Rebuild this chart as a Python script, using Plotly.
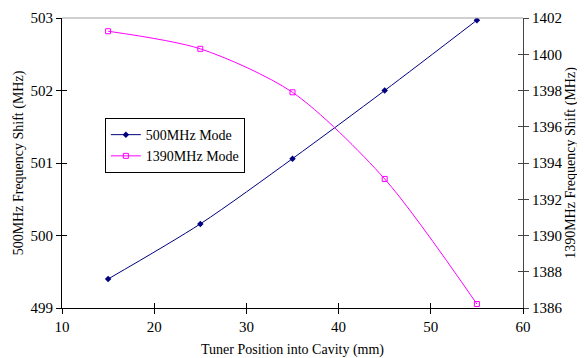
import plotly.graph_objects as go

positions = [15, 25, 35, 45, 55]
shift_500 = [499.40, 500.16, 501.06, 502.00, 502.97]
shift_1390 = [1401.27, 1400.30, 1397.90, 1393.12, 1386.22]

x_ticks = [10, 20, 30, 40, 50, 60]
left_ticks = [499, 500, 501, 502, 503]
right_ticks = [1386, 1388, 1390, 1392, 1394, 1396, 1398, 1400, 1402]

FONT = "Liberation Serif, Times New Roman, serif"
BLUE = "#000080"
PINK = "#FF00FF"

fig = go.Figure()

fig.add_trace(go.Scatter(
    x=positions, y=shift_500, name="500MHz Mode", mode="lines+markers",
    line=dict(color=BLUE, width=1, shape="spline", smoothing=0.8),
    marker=dict(symbol="diamond", size=5, color=BLUE),
    xaxis="x", yaxis="y"))
fig.add_trace(go.Scatter(
    x=positions, y=shift_1390, name="1390MHz Mode", mode="lines+markers",
    line=dict(color=PINK, width=1, shape="spline", smoothing=0.8),
    marker=dict(symbol="square-open", size=5, color=PINK, line=dict(width=1)),
    xaxis="x", yaxis="y2"))

# invisible helper traces for inward tick marks (crossing ticks)
inv = dict(mode="markers", marker=dict(opacity=0), hoverinfo="skip", showlegend=False)
fig.add_trace(go.Scatter(x=positions, y=shift_500, xaxis="x2", yaxis="y", **inv))
fig.add_trace(go.Scatter(x=positions, y=shift_500, xaxis="x", yaxis="y3", **inv))
fig.add_trace(go.Scatter(x=positions, y=shift_1390, xaxis="x", yaxis="y4", **inv))

tickfont = dict(family=FONT, size=15, color="black")
titlefont = dict(family=FONT, size=14, color="black")

fig.update_layout(
    width=577, height=350,
    margin=dict(l=54, r=62, t=10, b=50, autoexpand=False),
    paper_bgcolor="white", plot_bgcolor="white",
    font=dict(family=FONT, size=14, color="black"),
    xaxis=dict(range=[10, 60], tickvals=x_ticks, ticks="outside", ticklen=5,
               tickcolor="black", showline=True, linecolor="black", linewidth=1,
               showgrid=False, zeroline=False, tickfont=tickfont, automargin=False,
               title=dict(text="Tuner Position into Cavity (mm)",
                          font=titlefont, standoff=10)),
    xaxis2=dict(range=[10, 60], tickvals=x_ticks, ticks="inside", ticklen=5,
                tickcolor="black", overlaying="x", anchor="y", showticklabels=False,
                showline=False, showgrid=False, zeroline=False, automargin=False),
    yaxis=dict(range=[499, 503], tickvals=left_ticks, ticks="outside", ticklen=5,
               tickcolor="black", showline=True, linecolor="black", linewidth=1,
               showgrid=False, zeroline=False, tickfont=tickfont, automargin=False,
               title=dict(text="500MHz Frequency Shift (MHz)",
                          font=titlefont, standoff=3)),
    yaxis2=dict(range=[1386, 1402], tickvals=right_ticks, ticks="outside", ticklen=5,
                tickcolor="#444444", overlaying="y", side="right", anchor="x",
                showline=True, linecolor="#444444", linewidth=1, automargin=False,
                showgrid=False, zeroline=False, tickfont=tickfont,
                title=dict(text="1390MHz Frequency Shift (MHz)",
                           font=titlefont, standoff=3)),
    yaxis3=dict(range=[499, 503], tickvals=left_ticks, ticks="inside", ticklen=5,
                tickcolor="black", overlaying="y", side="left", anchor="x",
                showticklabels=False, showline=False, showgrid=False, zeroline=False,
                automargin=False),
    yaxis4=dict(range=[1386, 1402], tickvals=right_ticks, ticks="inside", ticklen=5,
                tickcolor="#444444", overlaying="y", side="right", anchor="x",
                showticklabels=False, showline=False, showgrid=False, zeroline=False,
                automargin=False),
    legend=dict(x=0.093, y=0.655, xanchor="left", yanchor="top",
                bgcolor="white", bordercolor="black", borderwidth=1,
                font=dict(family=FONT, size=14), tracegroupgap=0,
                itemwidth=30),
    shapes=[dict(type="line", xref="paper", yref="paper", x0=0, x1=1, y0=1, y1=1,
                 line=dict(color="#A0A0A0", width=1))],
    showlegend=True,
)

fig.write_html("out.html")
